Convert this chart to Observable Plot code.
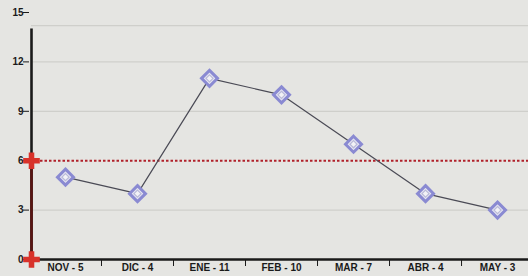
<!DOCTYPE html>
<html>
<head>
<meta charset="utf-8">
<script src="https://cdn.jsdelivr.net/npm/d3@7"></script>
<script src="https://cdn.jsdelivr.net/npm/@observablehq/plot@0.6"></script>
<style>
  html, body { margin: 0; padding: 0; background: #e5e5e2; }
  #chart { width: 528px; height: 276px; overflow: hidden; }
</style>
</head>
<body>
<div id="chart"></div>
<script>
const months = ["NOV", "DIC", "ENE", "FEB", "MAR", "ABR", "MAY"];
const values = [5, 4, 11, 10, 7, 4, 3];
const yTicks = [0, 3, 6, 9, 12, 15];
const gridValues = [3, 9, 12, 14.2];
const threshold = 6;
const yAxisTop = 14;

const data = months.map((m, i) => ({i, month: m, value: values[i]}));
const idx = months.map((_, i) => i);
const seps = months.slice(1).map((_, i) => i + 0.5);
const xDomain = [-0.472, 6.43];
const x0 = xDomain[0];

const ink = "#1a1a1a";
const red = "#d8322a";

const chart = Plot.plot({
  width: 528,
  height: 276,
  marginLeft: 31,
  marginRight: 0,
  marginTop: 12,
  marginBottom: 17,
  style: {background: "transparent", fontFamily: "Liberation Sans, Arial, sans-serif"},
  x: {type: "linear", domain: xDomain, axis: null, label: null},
  y: {domain: [0, 15], axis: null, label: null},
  marks: [
    Plot.ruleY(gridValues, {stroke: "#cfcfcb", strokeWidth: 1.2}),
    // y axis
    Plot.axisY(yTicks, {anchor: "left", label: null, tickSize: 6, tickPadding: 0, tickStrokeWidth: 2.2, stroke: ink,
      fontSize: 10, fontWeight: "bold", fill: ink, dx: -2}),
    Plot.ruleX([x0], {y1: 0, y2: yAxisTop, stroke: ink, strokeWidth: 2.6}),
    Plot.ruleX([x0], {y1: 0, y2: threshold, stroke: "#5a1512", strokeWidth: 2.6}),
    // x axis
    Plot.ruleY([0], {stroke: ink, strokeWidth: 2.4}),
    Plot.axisX(seps, {anchor: "bottom", label: null, tickSize: 7, tickStrokeWidth: 2, stroke: ink, tickFormat: () => ""}),
    Plot.axisX(idx, {anchor: "bottom", label: null, tickSize: 0, tickPadding: 4, fontSize: 10, fontWeight: "bold", fill: ink,
      tickFormat: i => `${months[i]} - ${values[i]}`}),
    // threshold line
    Plot.ruleY([threshold], {stroke: "#b0202a", strokeWidth: 2, strokeDasharray: "2.5,2"}),
    Plot.dot([{y: threshold}, {y: 0}], {x: () => x0, y: "y", symbol: "cross", r: 7, fill: red, stroke: "none"}),
    // series
    Plot.line(data, {x: "i", y: "value", stroke: "#4a4a55", strokeWidth: 1.2}),
    Plot.dot(data, {x: "i", y: "value", symbol: "diamond2", r: 7.2, stroke: "#8a8ad2", strokeWidth: 3, fill: "#e6e6f2"}),
    Plot.dot(data, {x: "i", y: "value", symbol: "diamond2", r: 3.2, stroke: "#b9b9d8", strokeWidth: 1.2, fill: "#f2f2f6"})
  ]
});
document.getElementById("chart").append(chart);
</script>
</body>
</html>
